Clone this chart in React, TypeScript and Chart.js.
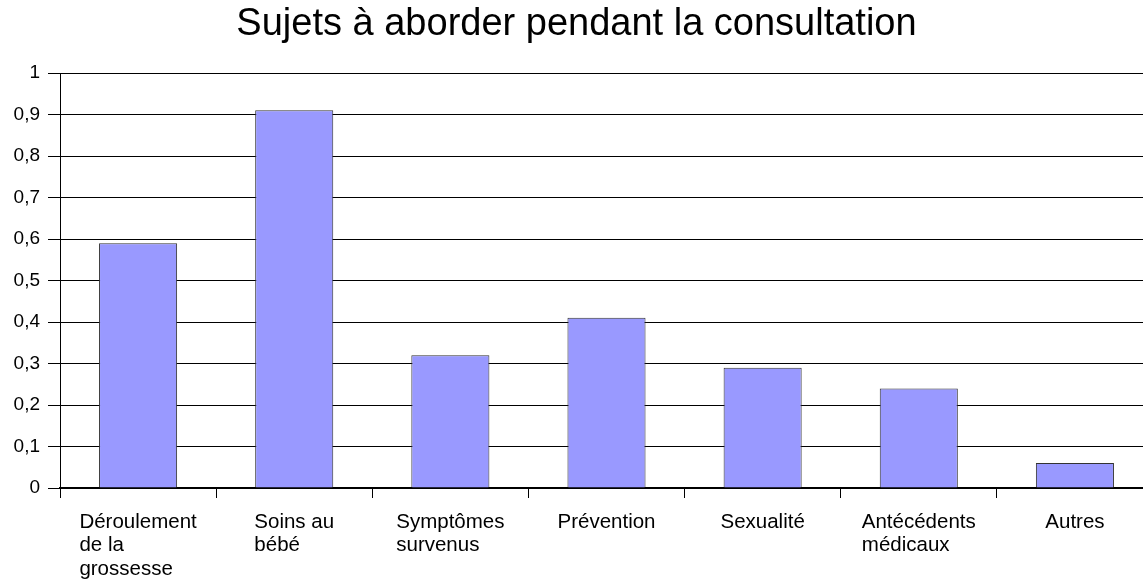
import React, { useEffect, useRef } from "react";
import { Chart, registerables } from "chart.js";

Chart.register(...registerables);

const TITLE = "Sujets à aborder pendant la consultation";
const categories = [
  "Déroulement de la grossesse",
  "Soins au bébé",
  "Symptômes survenus",
  "Prévention",
  "Sexualité",
  "Antécédents médicaux",
  "Autres",
];
const categoryLines: string[][] = [
  ["Déroulement", "de la", "grossesse"],
  ["Soins au", "bébé"],
  ["Symptômes", "survenus"],
  ["Prévention"],
  ["Sexualité"],
  ["Antécédents", "médicaux"],
  ["Autres"],
];
const values = [0.59, 0.91, 0.32, 0.41, 0.29, 0.24, 0.06];
const yTickLabels = ["0", "0,1", "0,2", "0,3", "0,4", "0,5", "0,6", "0,7", "0,8", "0,9", "1"];

const FONT = "'Liberation Sans', Arial, Helvetica, sans-serif";

const xLabelPlugin = {
  id: "xLabelBlocks",
  afterDraw(chart: any) {
    const ctx = chart.ctx;
    const xs = chart.scales.x;
    const bottom = chart.chartArea.bottom;
    ctx.save();
    ctx.font = `20.5px ${FONT}`;
    ctx.fillStyle = "#000";
    ctx.textAlign = "left";
    ctx.textBaseline = "alphabetic";
    categoryLines.forEach((lines, i) => {
      const cx = xs.getPixelForTick(i);
      const w = Math.max(...lines.map((l) => ctx.measureText(l).width));
      const x0 = cx - w / 2;
      lines.forEach((line, j) => {
        ctx.fillText(line, x0, bottom + 39.5 + j * 23.5);
      });
    });
    ctx.restore();
  },
};

export default function App() {
  const ref = useRef<HTMLCanvasElement | null>(null);
  useEffect(() => {
    if (!ref.current) return;
    Chart.defaults.font.family = FONT;
    const chart = new Chart(ref.current, {
      type: "bar",
      data: {
        labels: categories,
        datasets: [
          {
            data: values,
            backgroundColor: "#9999FF",
            borderColor: "#333333",
            borderWidth: 1,
            barPercentage: 0.5,
            categoryPercentage: 1,
          },
        ],
      },
      options: {
        responsive: false,
        animation: false,
        layout: { padding: 0 },
        plugins: {
          legend: { display: false },
          tooltip: { enabled: false },
          title: {
            display: true,
            text: TITLE,
            color: "#000",
            font: { size: 38, weight: "normal", family: FONT, lineHeight: 1.2 },
            padding: { top: 2, bottom: 25.4 },
          },
        },
        scales: {
          x: {
            offset: true,
            grid: {
              offset: true,
              drawOnChartArea: false,
              drawTicks: true,
              tickLength: 10,
              color: "#000",
            },
            border: { display: true, color: "#000", width: 2 },
            ticks: { display: false, autoSkip: false, maxRotation: 0 },
            afterFit: (s: any) => {
              s.height = 91;
            },
          },
          y: {
            min: 0,
            max: 1,
            ticks: {
              stepSize: 0.1,
              color: "#000",
              padding: 8,
              font: { size: 19, family: FONT },
              callback: (_v: any, i: number) => yTickLabels[i],
            },
            grid: { color: "#000", lineWidth: 1, tickLength: 12, drawTicks: true },
            border: { display: true, color: "#000", width: 1 },
            afterFit: (s: any) => {
              s.width = 60;
            },
          },
        },
      },
      plugins: [xLabelPlugin],
    });
    return () => chart.destroy();
  }, []);
  return (
    <div
      style={{
        position: "fixed",
        left: 0,
        top: 0,
        width: 1143,
        height: 579,
        overflow: "hidden",
        background: "#fff",
      }}
    >
      <canvas ref={ref} width={1153} height={579} style={{ display: "block", width: 1153, height: 579 }} />
    </div>
  );
}
